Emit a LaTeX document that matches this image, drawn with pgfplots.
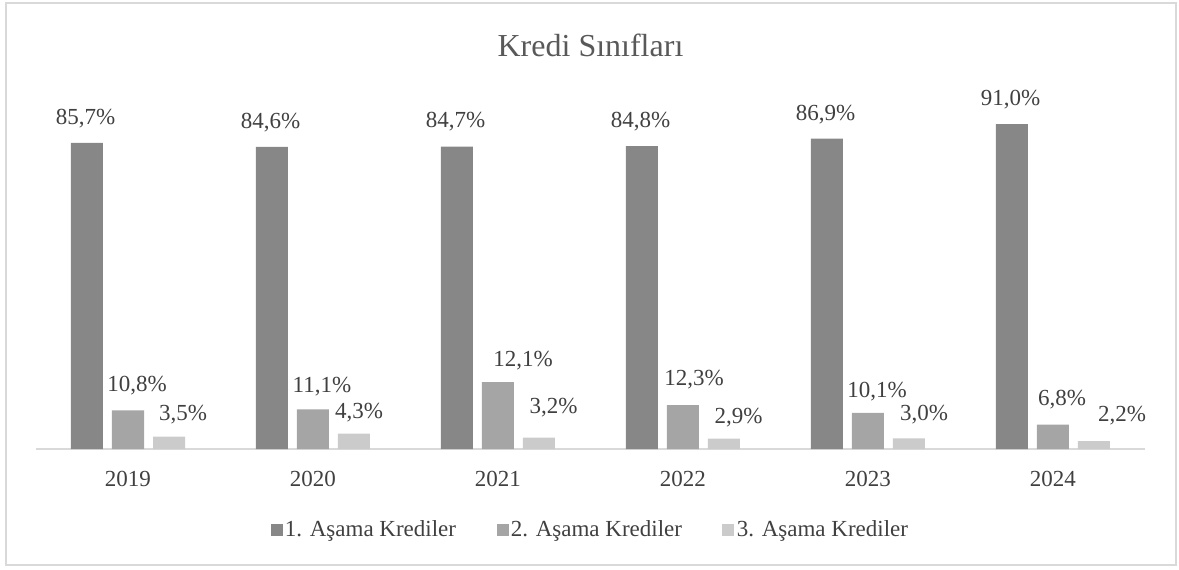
\documentclass[border=0pt]{standalone}
\usepackage{fontspec}
\setmainfont{Liberation Serif}
\usepackage{pgfplots}
\usepackage{pgfplotstable}
\pgfplotsset{compat=1.18}
\definecolor{cA}{HTML}{878787}
\definecolor{cB}{HTML}{A5A5A5}
\definecolor{cC}{HTML}{CBCBCB}
\definecolor{linec}{HTML}{D9D9D9}
\definecolor{txt}{HTML}{404040}
\definecolor{ttl}{HTML}{595959}

\pgfplotstableread{
x y lab dx dy
0 85.7 85,7 -0.75 12.25
1 84.6 84,6 -0.75 12.25
2 84.7 84,7 -0.75 12.25
3 84.8 84,8 -0.75 12.25
4 86.9 86,9 -0.75 12.25
5 91.0 91,0 -0.75 12.25
}\dataA

\pgfplotstableread{
x y lab dx dy
0 10.8 10,8 4.5 12.3
1 11.1 11,1 4.5 11.4
2 18.7 12,1 12.5 11.0
3 12.3 12,3 5.5 12.7
4 10.1 10,1 4.5 10.8
5 6.8 6,8 4.5 12.5
}\dataB

\pgfplotstableread{
x y lab dx dy
0 3.5 3,5 7 10.9
1 4.3 4,3 2.5 10.5
2 3.2 3,2 7.25 14.8
3 2.9 2,9 7.25 10.6
4 3.0 3,0 7.5 12
5 2.2 2,2 14 13
}\dataC

\begin{document}
\begin{tikzpicture}[x=0.5pt,y=0.5pt]
\useasboundingbox (0,0) rectangle (1179,569);
\draw[linec, line width=0.6pt] (6,4) rectangle (1176,566);
\node[text=ttl, font=\fontsize{16}{19}\selectfont, inner sep=0pt] at (590.5,524) {Kredi Sınıfları};
\begin{axis}[
  at={(17.75pt,60pt)}, anchor=south west,
  scale only axis, width=555pt, height=178.55pt,
  xmin=-0.5, xmax=5.5, ymin=0, ymax=100,
  clip=false,
  axis x line*=bottom, axis y line=none,
  x axis line style={linec, line width=0.75pt},
  xtick={0,1,2,3,4,5},
  xticklabels={2019,2020,2021,2022,2023,2024},
  xtick style={draw=none}, major tick length=0pt,
  xticklabel style={anchor=center, yshift=-15pt, text=txt, font=\fontsize{11.5}{13}\selectfont},
  ytick=\empty,
  ybar=4.5pt, bar width=16pt,
  point meta=explicit symbolic,
  nodes near coords={\pgfplotspointmeta\%},
  visualization depends on={\thisrow{dx}\as\dxv},
  visualization depends on={\thisrow{dy}\as\dyv},
  every node near coord/.append style={anchor=center, xshift=\dxv pt, yshift=\dyv pt, text=txt, font=\fontsize{11.5}{13}\selectfont, inner sep=0pt},
  legend style={at={(0.5,-0.227)}, anchor=center, draw=none, fill=none,
    legend columns=3, font=\fontsize{11.5}{13}\selectfont, text=txt,
    /tikz/every even column/.append style={column sep=19pt},
    nodes={inner sep=1.2pt}},
]
\addplot[fill=cA, draw=none, legend image code/.code={\fill[cA] (0pt,-3pt) rectangle (6pt,3pt);}] table[x=x, y=y, meta=lab] {\dataA};
\addlegendentry{1. Aşama Krediler}
\addplot[fill=cB, draw=none, legend image code/.code={\fill[cB] (0pt,-3pt) rectangle (6pt,3pt);}] table[x=x, y=y, meta=lab] {\dataB};
\addlegendentry{2. Aşama Krediler}
\addplot[fill=cC, draw=none, legend image code/.code={\fill[cC] (0pt,-3pt) rectangle (6pt,3pt);}] table[x=x, y=y, meta=lab] {\dataC};
\addlegendentry{3. Aşama Krediler}
\end{axis}
\end{tikzpicture}
\end{document}
